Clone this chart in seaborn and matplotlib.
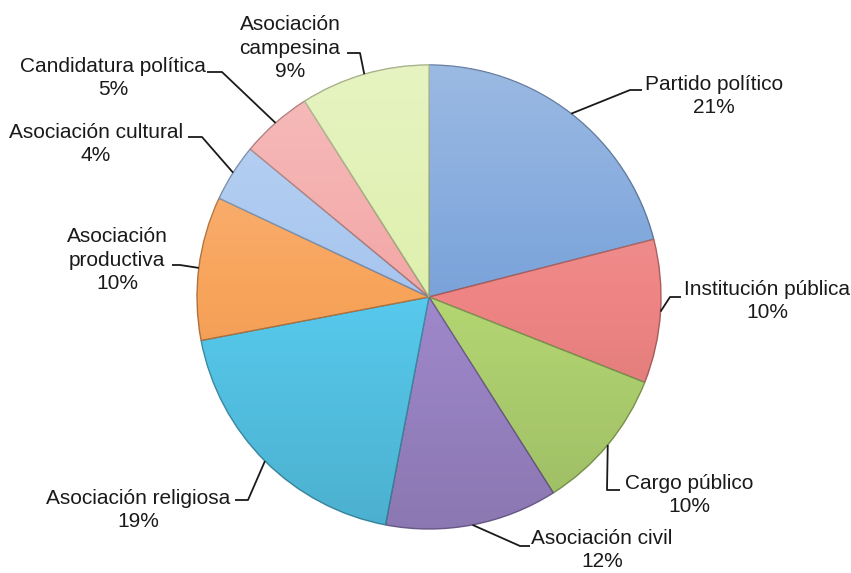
import numpy as np
import matplotlib
matplotlib.use("Agg")
import matplotlib.pyplot as plt
import matplotlib.colors as mcolors
from matplotlib.patches import Circle
import seaborn as sns

# Participation categories, clockwise from 12 o'clock
categories = [
    "Partido político",
    "Institución pública",
    "Cargo público",
    "Asociación civil",
    "Asociación religiosa",
    "Asociación productiva",
    "Asociación cultural",
    "Candidatura política",
    "Asociación campesina",
]
shares = [21, 10, 10, 12, 19, 10, 4, 5, 9]
label_texts = [
    "Partido político",
    "Institución pública",
    "Cargo público",
    "Asociación civil",
    "Asociación religiosa",
    "Asociación\nproductiva",
    "Asociación cultural",
    "Candidatura política",
    "Asociación\ncampesina",
]
slice_colors = [
    "#7aa3da", "#ee8584", "#b3d672", "#9f88cb", "#57c9ec",
    "#f8a35a", "#a6c5ef", "#f3a7a6", "#def0ad",
]

sns.set_theme(style="white")
plt.rcParams["font.family"] = ["Liberation Sans", "DejaVu Sans"]

W, H = 851, 573
fig = plt.figure(figsize=(W / 100, H / 100), dpi=100)
ax = fig.add_axes([0, 0, 1, 1])

cx, cy, R = 429, H - 297, 232


def darker(c, f=0.7):
    r, g, b = mcolors.to_rgb(c)
    return (r * f, g * f, b * f)


wedges, _ = ax.pie(
    shares,
    colors=slice_colors,
    startangle=90,
    counterclock=False,
    center=(cx, cy),
    radius=R,
    frame=True,
    wedgeprops=dict(linewidth=1.0),
)
for w, c in zip(wedges, slice_colors):
    w.set_edgecolor(darker(c))

# soft top-light / bottom-dark shading over the disc
g = np.linspace(0, 1, 256)
shade = np.zeros((256, 1, 4))
shade[:, 0, :3] = np.where(g < 0.5, 1.0, 0.0)[:, None]
shade[:, 0, 3] = np.where(g < 0.5, (0.5 - g) * 0.5, (g - 0.5) * 0.25)
img = ax.imshow(shade, extent=(cx - R, cx + R, cy - R, cy + R), origin="upper",
                aspect="auto", zorder=3)
img.set_clip_path(Circle((cx, cy), R, transform=ax.transData))

ax.set_xlim(0, W)
ax.set_ylim(0, H)
ax.set_aspect("equal")
ax.axis("off")

# label placement (pixel coords from the top) and leader elbows
label_pos = [
    (714, 96), (767, 301), (689, 495), (602, 550), (138, 510),
    (117, 260), (96, 144), (113, 78), (290, 48),
]
elbows = [
    [(630, 90), (642, 90)],
    [(670, 297), (681, 297)],
    [(607, 490), (620, 490)],
    [(520, 546), (530, 546)],
    [(248, 500), (235, 500)],
    [(180, 265), (172, 265)],
    [(202, 137), (188, 137)],
    [(222, 72), (207, 72)],
    [(360, 53), (347, 53)],
]

total = sum(shares)
cum = 0
for i, (txt, v) in enumerate(zip(label_texts, shares)):
    mid = np.deg2rad(90 - (cum + v / 2) / total * 360)
    cum += v
    ex, ey = cx + R * np.cos(mid), cy + R * np.sin(mid)
    xs = [ex] + [p[0] for p in elbows[i]]
    ys = [ey] + [H - p[1] for p in elbows[i]]
    ax.plot(xs, ys, color="#1a1a1a", lw=1.3, zorder=4, solid_capstyle="butt")
    lx, ly = label_pos[i]
    ax.text(lx, H - ly, f"{txt}\n{v}%", ha="center", va="center",
            fontsize=15, color="#1a1a1a", linespacing=1.33, zorder=5)

fig.savefig("out.png", dpi=100)
